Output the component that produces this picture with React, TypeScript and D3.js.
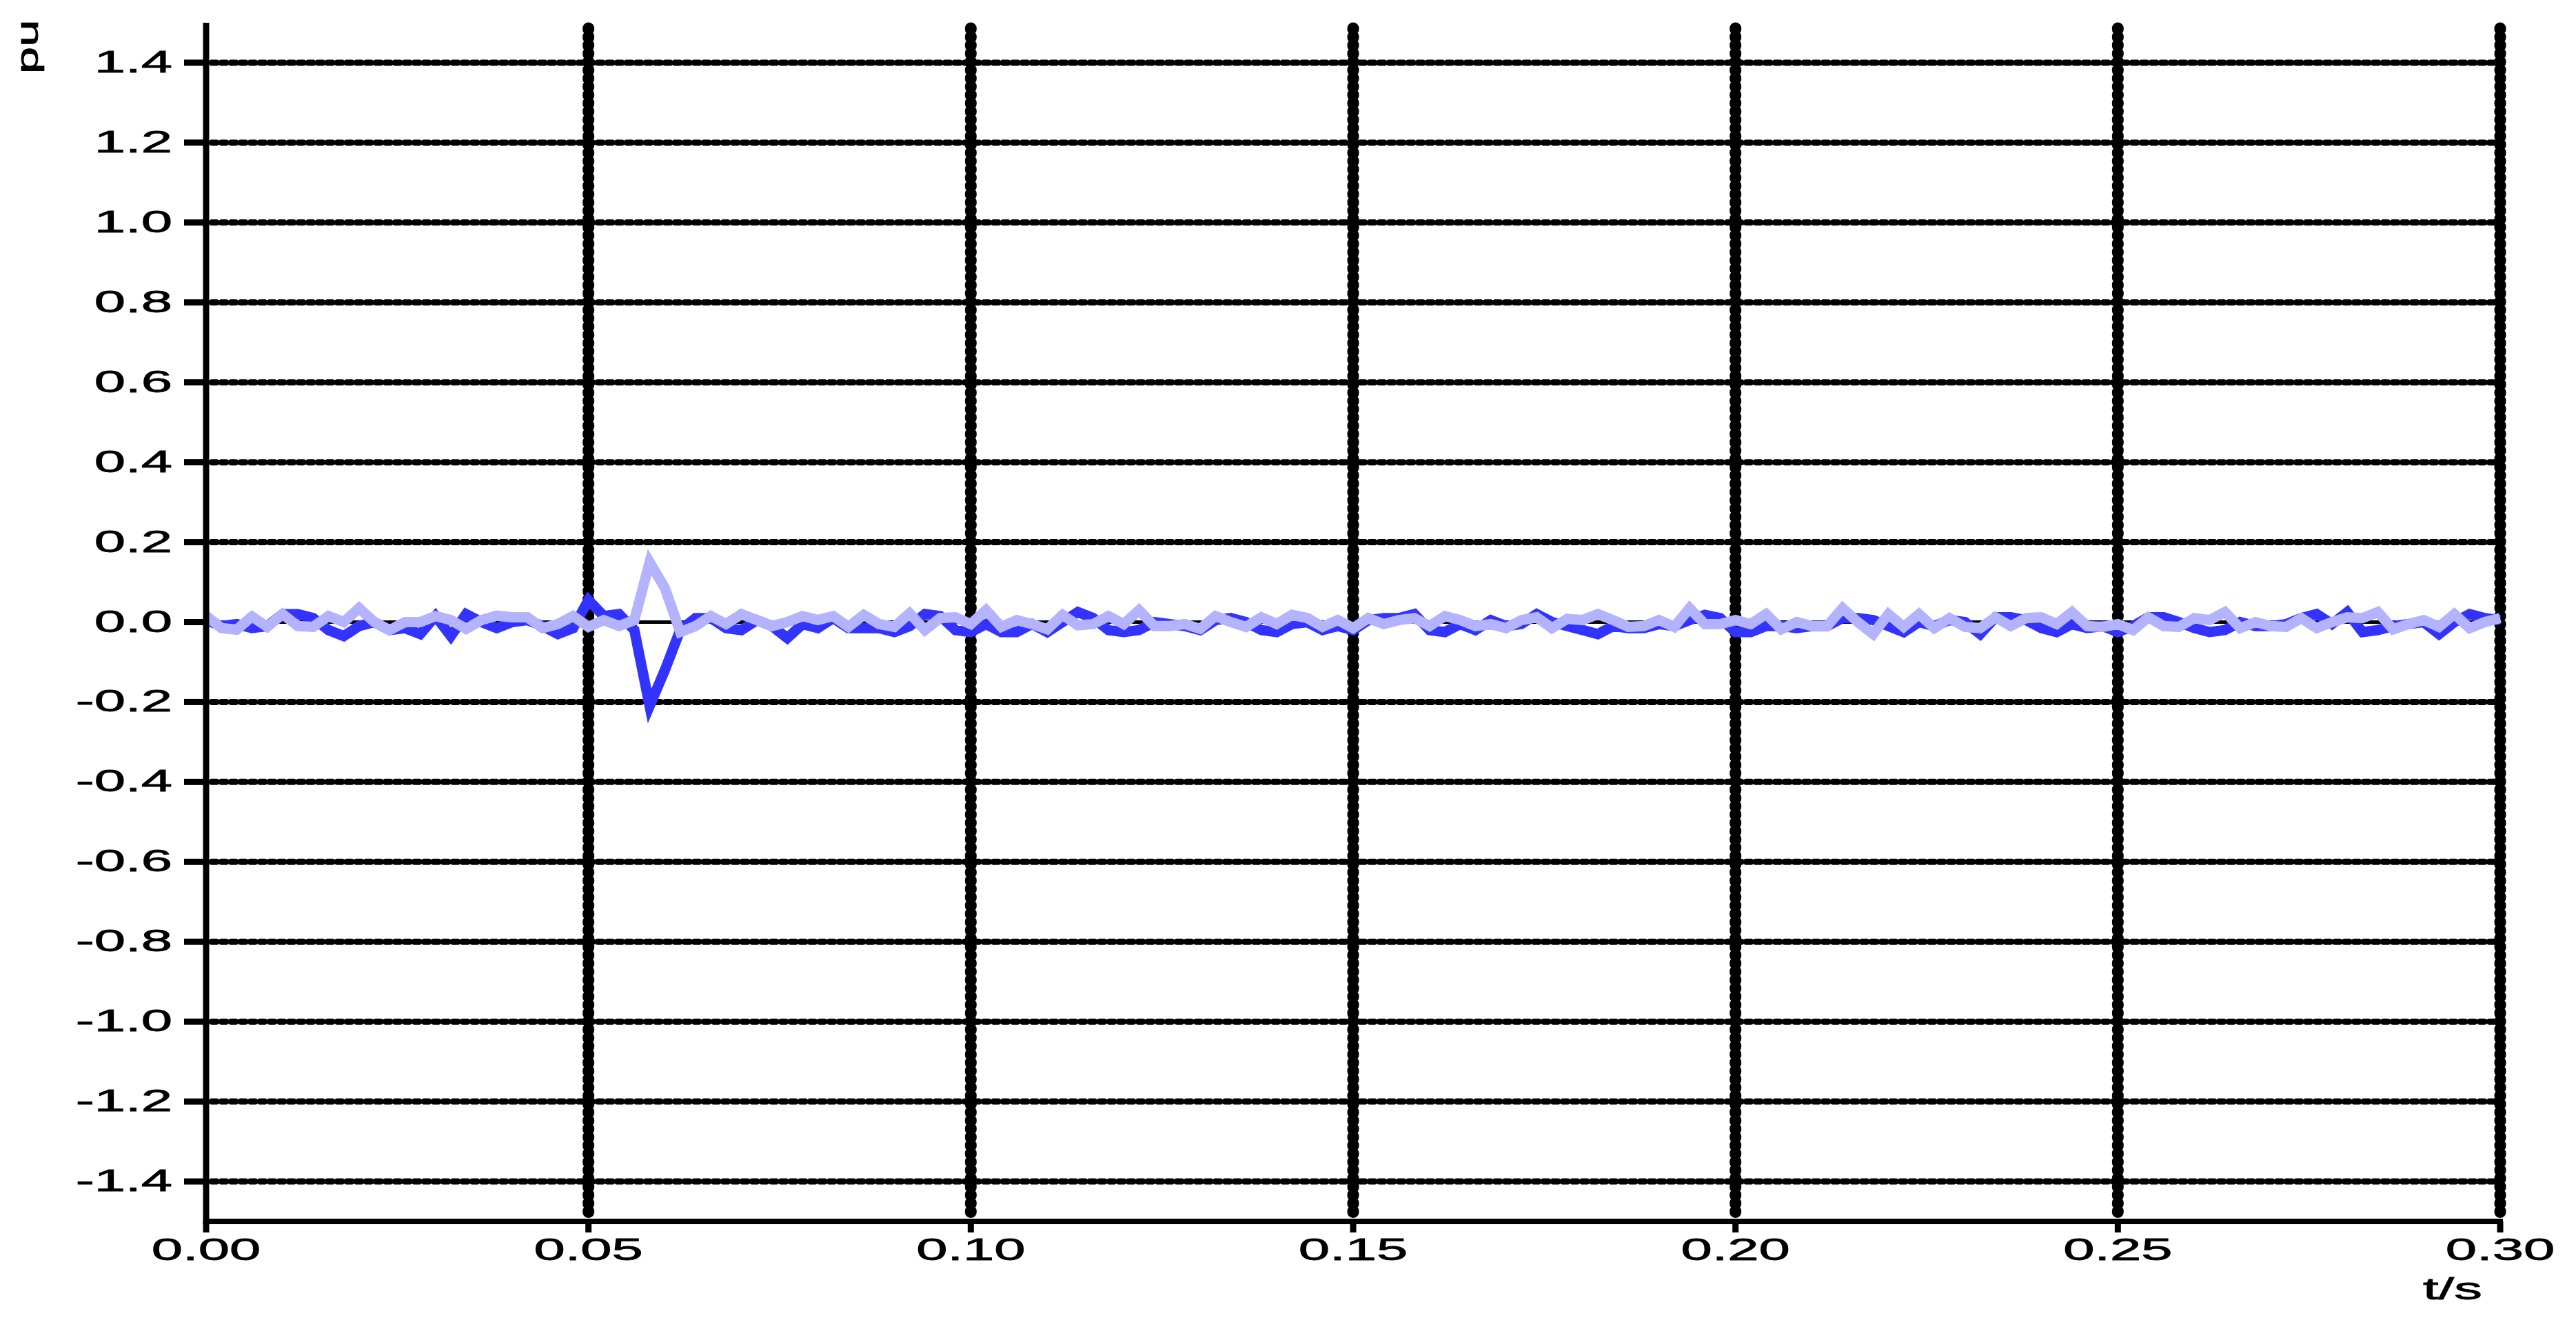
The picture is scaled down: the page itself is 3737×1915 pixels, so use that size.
import React from "react";
import * as d3 from "d3";

const TIME_STEP = 0.002;

const lightSeries: number[] = [
  0.016, -0.015, -0.019, 0.014, -0.012, 0.02, -0.01, -0.012, 0.015, 0.0,
  0.035, 0.0, -0.02, 0.0, 0.0, 0.015, 0.005, -0.017, 0.005, 0.016,
  0.012, 0.012, -0.015, -0.005, 0.015, -0.012, 0.005, -0.01, 0.005, 0.15,
  0.085, -0.025, -0.01, 0.015, -0.005, 0.02, 0.005, -0.01,
  0.0, 0.015, 0.005, 0.015, -0.012, 0.018, -0.005, -0.012, 0.022, -0.02,
  0.01, 0.012, -0.005, 0.03, -0.012, 0.005, -0.005, -0.018, 0.018, -0.008,
  -0.005, 0.015, -0.005, 0.03, -0.01, -0.01, -0.005, -0.017, 0.015, 0.0,
  -0.012, 0.012, -0.005, 0.018, 0.01, -0.012, 0.005, -0.015,
  0.01, -0.005, 0.005, 0.01, -0.01, 0.015, 0.005, -0.01, -0.005, -0.015,
  0.005, 0.012, -0.015, 0.008, 0.005, 0.02, 0.005, -0.012, -0.01, 0.005,
  -0.012, 0.035, -0.005, -0.005, 0.005, -0.005, 0.02, -0.018, 0.0, -0.01,
  -0.01, 0.035, 0.0, -0.03, 0.02, -0.012, 0.02, -0.015,
  0.01, -0.012, -0.015, 0.012, -0.01, 0.01, 0.012, -0.005, 0.025, -0.01,
  -0.012, -0.005, -0.02, 0.012, -0.01, -0.012, 0.01, 0.005, 0.025, -0.015,
  0.0, -0.01, -0.012, 0.01, -0.015, 0.0, 0.012, 0.01, 0.025, -0.018,
  -0.005, 0.005, -0.012, 0.02, -0.015, 0.0, 0.01,
];

const blueSeries: number[] = [
  0.005, -0.01, -0.005, -0.015, -0.01, 0.02, 0.02, 0.01, -0.02, -0.035,
  -0.01, 0.0, -0.02, -0.015, -0.03, 0.015, -0.035, 0.02, 0.0, -0.015,
  0.0, 0.005, -0.01, -0.03, -0.015, 0.055, 0.015, 0.02, -0.02, -0.21,
  -0.12, -0.02, 0.01, 0.01, -0.015, -0.02, 0.005, -0.01,
  -0.04, -0.005, -0.015, 0.01, -0.015, -0.015, -0.015, -0.025, -0.01, 0.02,
  0.015, -0.02, -0.025, -0.005, -0.025, -0.025, -0.005, -0.025, 0.0, 0.025,
  0.01, -0.02, -0.025, -0.02, 0.0, -0.005, -0.01, -0.02, 0.005, 0.01,
  0.0, -0.02, -0.025, -0.005, 0.0, -0.02, -0.01, -0.02,
  0.005, 0.01, 0.01, 0.02, -0.02, -0.025, -0.005, -0.02, 0.005, -0.01,
  -0.005, 0.02, 0.0, -0.01, -0.02, -0.03, -0.01, -0.015, -0.015, -0.005,
  -0.01, 0.005, 0.018, 0.01, -0.025, -0.025, -0.01, -0.01, -0.015, -0.01,
  -0.01, 0.01, 0.01, 0.005, -0.01, -0.025, 0.0, -0.01,
  0.005, 0.0, -0.03, 0.012, 0.012, 0.005, -0.015, -0.025, -0.005, -0.015,
  -0.01, -0.025, -0.01, 0.012, 0.012, 0.0, -0.015, -0.025, -0.02, 0.0,
  -0.01, -0.01, -0.005, 0.01, 0.02, -0.005, 0.025, -0.025, -0.02, -0.01,
  -0.005, 0.0, -0.03, 0.0, 0.02, 0.01, 0.005,
];

const xTicks: number[] = [0, 0.05, 0.1, 0.15, 0.2, 0.25, 0.3];
const xTickLabels: string[] = ["0.00", "0.05", "0.10", "0.15", "0.20", "0.25", "0.30"];
const yTicks: number[] = [1.4, 1.2, 1.0, 0.8, 0.6, 0.4, 0.2, 0.0, -0.2, -0.4, -0.6, -0.8, -1.0, -1.2, -1.4];
const yTickLabels: string[] = ["1.4", "1.2", "1.0", "0.8", "0.6", "0.4", "0.2", "0.0", "-0.2", "-0.4", "-0.6", "-0.8", "-1.0", "-1.2", "-1.4"];
const xLabel = "t/s";
const yLabel = "pu";

const W = 3737;
const H = 1915;
const FONT = "'Liberation Sans', Arial, Helvetica, sans-serif";
const FS = 44;
const STRETCH = 1.85;

export default function App() {
  const x = d3.scaleLinear().domain([0, 0.3]).range([299, 3627]);
  const y = d3.scaleLinear().domain([-1.5, 1.5]).range([1772, 33]);

  const line = d3
    .line<number>()
    .x((_, i) => x(i * TIME_STEP))
    .y((d) => y(d));

  const x0 = x(0);
  const x1 = x(0.3);
  const yTop = y(1.5);
  const yBot = y(-1.5);

  const textProps = {
    fontFamily: FONT,
    fontSize: FS,
    fill: "#000",
    stroke: "#000",
    strokeWidth: 0.8,
  };

  return (
    <svg
      width={W}
      height={H}
      viewBox={`0 0 ${W} ${H}`}
      style={{ position: "absolute", left: 0, top: 0, background: "#fff" }}
    >
      <rect x={0} y={0} width={W} height={H} fill="#fff" />
      {/* horizontal grid */}
      {yTicks.map((v) =>
        v === 0 ? (
          <line
            key={"hg" + v}
            x1={x0}
            x2={x1}
            y1={y(v)}
            y2={y(v)}
            stroke="#000"
            strokeWidth={5}
          />
        ) : (
          <line
            key={"hg" + v}
            x1={x0 + 8}
            x2={x1}
            y1={y(v)}
            y2={y(v)}
            stroke="#000"
            strokeWidth={9}
            strokeLinecap="round"
            strokeDasharray="7.3 6.7"
          />
        )
      )}
      {/* vertical grid */}
      {xTicks.slice(1).map((v) => (
        <line
          key={"vg" + v}
          x1={x(v)}
          x2={x(v)}
          y1={yTop + 8}
          y2={yBot - 6}
          stroke="#000"
          strokeWidth={17}
          strokeLinecap="round"
          strokeDasharray="1.5 10.5"
        />
      ))}
      {/* series */}
      <path
        d={line(blueSeries) || ""}
        fill="none"
        stroke="#3333FF"
        strokeWidth={15}
        strokeLinejoin="miter"
        strokeMiterlimit={6}
      />
      <path
        d={line(lightSeries) || ""}
        fill="none"
        stroke="#B3B3FF"
        strokeWidth={15}
        strokeLinejoin="miter"
        strokeMiterlimit={6}
      />
      {/* axes */}
      <line x1={x0} x2={x0} y1={yTop} y2={yBot + 4} stroke="#000" strokeWidth={9} />
      <line x1={x0 - 4} x2={x1 + 4} y1={yBot} y2={yBot} stroke="#000" strokeWidth={8} />
      {yTicks.map((v, i) => (
        <g key={"yt" + v}>
          <line x1={x0 - 32} x2={x0} y1={y(v)} y2={y(v)} stroke="#000" strokeWidth={9} />
          <text
            transform={`translate(250, ${y(v) + 14}) scale(${STRETCH},1)`}
            textAnchor="end"
            {...textProps}
          >
            {yTickLabels[i]}
          </text>
        </g>
      ))}
      {xTicks.map((v, i) => (
        <g key={"xt" + v}>
          <line x1={x(v)} x2={x(v)} y1={yBot} y2={yBot + 16} stroke="#000" strokeWidth={9} />
          <text
            transform={`translate(${x(v)}, 1828) scale(${STRETCH},1)`}
            textAnchor="middle"
            {...textProps}
          >
            {xTickLabels[i]}
          </text>
        </g>
      ))}
      <text
        transform={`translate(3515, 1885) scale(${STRETCH},1)`}
        textAnchor="start"
        {...textProps}
      >
        {xLabel}
      </text>
      <text
        transform={`translate(55, 107) rotate(-90) scale(1.6,1)`}
        textAnchor="start"
        {...textProps}
      >
        {yLabel}
      </text>
    </svg>
  );
}
